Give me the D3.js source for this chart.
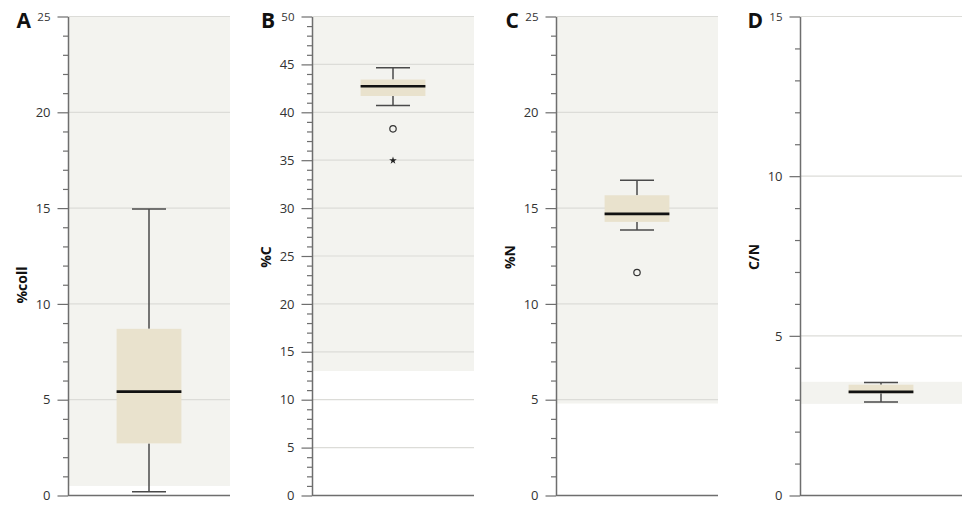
<!DOCTYPE html>
<html><head><meta charset="utf-8">
<script src="https://cdn.jsdelivr.net/npm/d3@7"></script>
<style>body{margin:0;background:#fff}svg{display:block}</style>
</head><body>
<script>
const letters = ["A","B","C","D"];
const titles = ["%coll","%C","%N","C/N"];
const yMax = [25, 50, 25, 15];
const majorTicks = [[0,5,10,15,20,25],[0,5,10,15,20,25,30,35,40,45,50],[0,5,10,15,20,25],[0,5,10,15]];
const whiskerLow = [0.2, 40.7, 13.86, 2.93];
const q1 = [2.72, 41.7, 14.28, 3.2];
const median = [5.42, 42.72, 14.7, 3.245];
const q3 = [8.7, 43.42, 15.67, 3.47];
const whiskerHigh = [14.95, 44.64, 16.46, 3.54];
const bandLow = [0.5, 13, 4.8, 2.87];
const bandHigh = [25, 50, 25, 3.56];
const circleOutliers = [[], [38.27], [11.64], []];
const starOutliers = [[], [34.97], [], []];

(function(){
const W = 965, H = 505;
const svg = d3.select("body").append("svg").attr("width", W).attr("height", H);
const font = "'Open Sans', sans-serif";
const panelX = [68, 312, 556, 800];
const pw = 162, yTop = 16.5, yBottom = 495.5;
const titleY = [285, 257, 257, 257];

letters.forEach((L, i) => {
  const g = svg.append("g").attr("transform", `translate(${panelX[i]},0)`);
  const y = d3.scaleLinear().domain([0, yMax[i]]).range([yBottom, yTop]);
  const x = d3.scaleBand().domain([titles[i]]).range([0, pw]).paddingInner(0).paddingOuter(0.75);
  const cx = x(titles[i]) + x.bandwidth() / 2;

  g.append("rect").attr("x", 0).attr("width", pw)
    .attr("y", y(bandHigh[i])).attr("height", y(bandLow[i]) - y(bandHigh[i]))
    .attr("fill", "#f3f3ef");

  g.selectAll(".grid").data(majorTicks[i].filter(d => d > 0)).enter().append("line")
    .attr("x1", 0).attr("x2", pw).attr("y1", d => y(d)).attr("y2", d => y(d))
    .attr("stroke", "#dcdcd8").attr("stroke-width", 1.2);

  const minor = d3.range(0, yMax[i] + 0.001, 1).filter(d => !majorTicks[i].includes(d));
  g.append("g").call(d3.axisLeft(y).tickValues(minor).tickSize(5).tickFormat(""))
    .call(a => a.select(".domain").remove())
    .call(a => a.selectAll("line").attr("stroke", "#6e6e6e").attr("stroke-width", 1.2));

  const ax = g.append("g").call(d3.axisLeft(y).tickValues(majorTicks[i]).tickSize(10.5).tickPadding(7).tickSizeOuter(0));
  ax.select(".domain").attr("stroke", "#6e6e6e").attr("stroke-width", 1.5);
  ax.selectAll("line").attr("stroke", "#6e6e6e").attr("stroke-width", 1.2);
  ax.selectAll("text").attr("font-family", font).attr("fill", "#333")
    .attr("font-size", d => d === yMax[i] ? 11.5 : 13);

  g.append("line").attr("x1", 0).attr("x2", pw).attr("y1", y(0)).attr("y2", y(0))
    .attr("stroke", "#6e6e6e").attr("stroke-width", 1.5);

  const capW = 34;
  const wc = "#4a4a4a";
  g.append("line").attr("x1", cx).attr("x2", cx).attr("y1", y(whiskerHigh[i])).attr("y2", y(q3[i])).attr("stroke", wc).attr("stroke-width", 1.5);
  g.append("line").attr("x1", cx).attr("x2", cx).attr("y1", y(q1[i])).attr("y2", y(whiskerLow[i])).attr("stroke", wc).attr("stroke-width", 1.5);
  [whiskerHigh[i], whiskerLow[i]].forEach(v => {
    g.append("line").attr("x1", cx - capW/2).attr("x2", cx + capW/2).attr("y1", y(v)).attr("y2", y(v)).attr("stroke", wc).attr("stroke-width", 1.5);
  });

  g.append("rect").attr("x", x(titles[i])).attr("width", x.bandwidth())
    .attr("y", y(q3[i])).attr("height", y(q1[i]) - y(q3[i]))
    .attr("fill", "#e9e2cd");
  g.append("line").attr("x1", x(titles[i])).attr("x2", x(titles[i]) + x.bandwidth())
    .attr("y1", y(median[i])).attr("y2", y(median[i])).attr("stroke", "#111").attr("stroke-width", 2.6);

  circleOutliers[i].forEach(v => {
    g.append("circle").attr("cx", cx).attr("cy", y(v)).attr("r", 3.2)
      .attr("fill", "none").attr("stroke", "#333").attr("stroke-width", 1.2);
  });
  starOutliers[i].forEach(v => {
    g.append("path").attr("d", d3.symbol(d3.symbolStar, 18)()).attr("transform", `translate(${cx},${y(v)})`).attr("fill", "#222");
  });

  svg.append("text").attr("x", panelX[i] - 37).attr("y", 28).attr("text-anchor", "end")
    .attr("font-family", font).attr("font-weight", "bold").attr("font-size", 21).attr("fill", "#111").text(L);
  svg.append("text").attr("transform", `translate(${panelX[i] - 41},${titleY[i]}) rotate(-90)`)
    .attr("text-anchor", "middle").attr("font-family", font).attr("font-weight", "bold")
    .attr("font-size", 14).attr("fill", "#111").text(titles[i]);
});
})();
</script>
</body></html>
